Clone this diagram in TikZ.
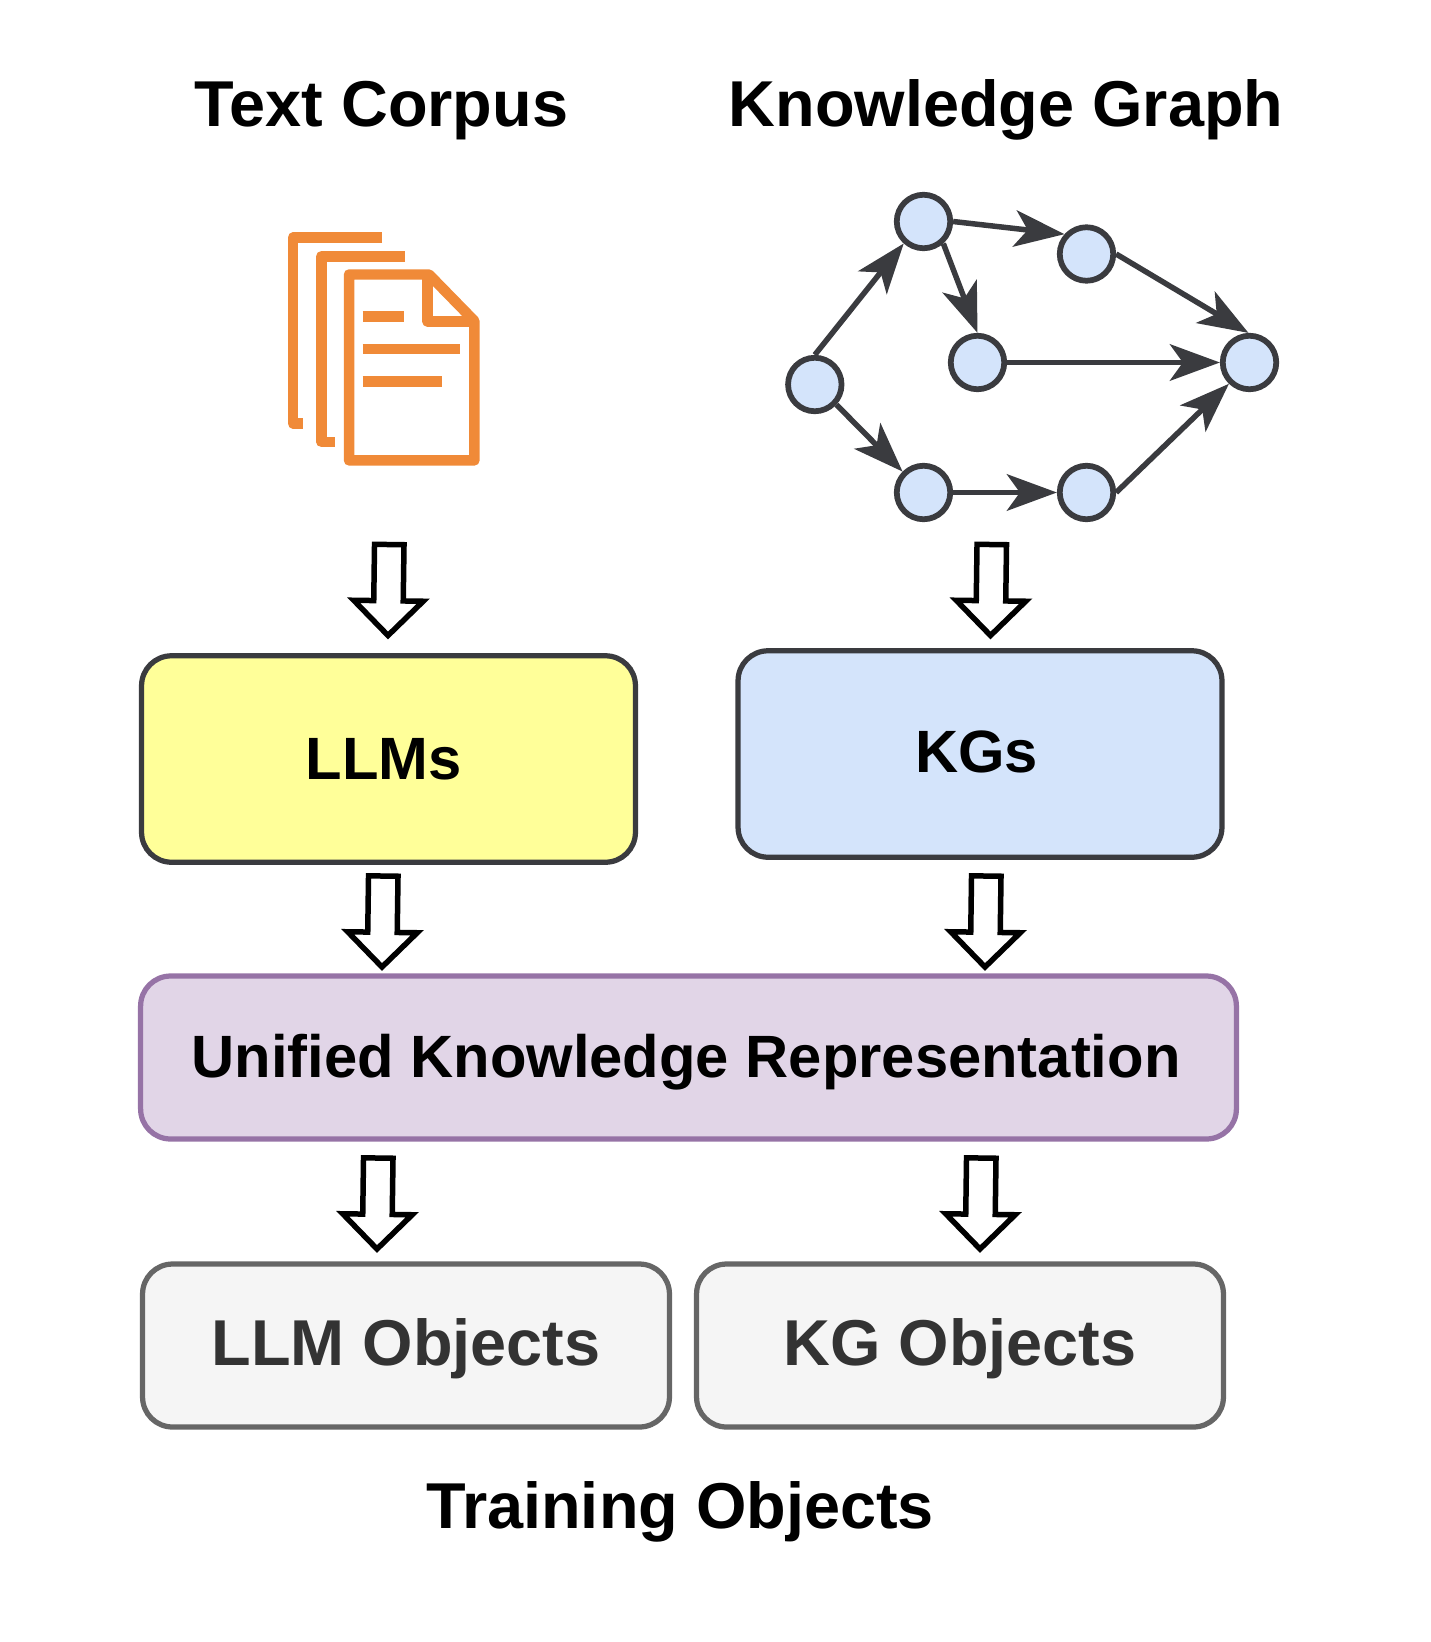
\documentclass[tikz,border=0pt]{standalone}
\usepackage{fontspec}
\setmainfont{Liberation Sans}
\usetikzlibrary{arrows.meta,shapes.arrows}
\definecolor{inkgray}{HTML}{3A3B3F}
\definecolor{kgblue}{HTML}{D4E4FB}
\definecolor{docorange}{HTML}{F08A38}
\definecolor{llmyellow}{HTML}{FFFF99}
\definecolor{unifill}{HTML}{E1D5E7}
\definecolor{uniline}{HTML}{9673A6}
\begin{document}
\begin{tikzpicture}
	[x=0.02cm,y=0.02cm,
	title/.style={font=\bfseries\fontsize{36.9}{44}\selectfont,anchor=base},
	gnode/.style={circle,draw=inkgray,fill=kgblue,line width=0.115cm,minimum size=1.07cm,inner sep=0pt},
	box/.style={rectangle,rounded corners=0.6cm,line width=0.105cm,inner sep=0pt,text depth=0pt,font=\bfseries\fontsize{34}{40}\selectfont},
	objbox/.style={box,draw=black!60,fill=black!4,text=black!80,text depth=0.14cm,minimum width=10.54cm,minimum height=3.26cm,font=\bfseries\fontsize{36.9}{44}\selectfont},
	hollow/.style={single arrow,draw=black,fill=white,line width=0.11cm,inner xsep=0pt,inner ysep=0.24cm,outer sep=0pt,minimum height=1.82cm,single arrow head extend=0.4cm,single arrow tip angle=90,rotate=-90.8,anchor=tip},
	edge/.style={draw=inkgray,line width=0.11cm,-{Stealth[length=1cm,width=0.73cm,inset=0.26cm]}},
	doc/.style={draw=docorange,line width=0.21cm,line join=round}]
	\useasboundingbox (0,0) rectangle (1430,-1642);
	% titles
	\node[title,name=textcorpus]at(381.5,-127){Text Corpus};
	\node[title,name=kgraph]at(1006,-127){Knowledge Graph};
	% document icon
	\draw[doc](382,-237.5)--(293,-237.5)--(293,-423.5)--(302.7,-423.5);
	\draw[doc](405,-256.3)--(321.3,-256.3)--(321.3,-441.8)--(334.7,-441.8);
	\draw[doc](349,-274.5)--(429,-274.5)--(474.4,-321)--(474.4,-460.4)--(349,-460.4)--cycle;
	\draw[doc](427.5,-274.5)--(427.5,-321.5)--(474.4,-321.5);
	\draw[doc](362.7,-316.3)--(404.3,-316.3);
	\draw[doc](362.7,-349)--(460,-349);
	\draw[doc](362.7,-381.3)--(441.7,-381.3);
	% graph
	\node[gnode,name=v1]at(923.5,-221.5){};
	\node[gnode,name=v2]at(1086.5,-254){};
	\node[gnode,name=v3]at(977.5,-362.5){};
	\node[gnode,name=v4]at(1249.5,-362.5){};
	\node[gnode,name=v5]at(814.8,-384.5){};
	\node[gnode,name=v6]at(923.5,-492.5){};
	\node[gnode,name=v7]at(1086.5,-492.5){};
	\draw[edge](v5.90) -- (v1.228);
	\draw[edge](v1.0) -- (v2.138);
	\draw[edge](v1.312) -- (v3.90);
	\draw[edge](v2.0) -- (v4.92);
	\draw[edge](v3.0) -- (v4.180);
	\draw[edge](v5.317) -- (v6.135);
	\draw[edge](v6.0) -- (v7.180);
	\draw[edge](v7.0) -- (v4.226);
	% boxes
	\node[box,draw=inkgray,fill=llmyellow,minimum width=9.88cm,minimum height=4.13cm,name=llms]at(388.5,-759){LLMs\kern0.2cm};
	\node[box,draw=inkgray,fill=kgblue,minimum width=9.68cm,minimum height=4.13cm,text depth=0.08cm,name=kgs]at(980,-754){KGs\kern0.14cm};
	\node[box,draw=uniline,fill=unifill,minimum width=21.92cm,minimum height=3.26cm,text depth=0.08cm,name=unified]at(688.5,-1057.5){Unified Knowledge Representation\kern0.1cm};
	\node[objbox,name=llmobj]at(406,-1345.5){LLM Objects};
	\node[objbox,name=kgobj]at(960,-1345.5){KG Objects};
	\node[title,name=training]at(680,-1528.6){Training Objects};
	% hollow arrows
	\node[hollow,name=a1]at(388,-635.5){};
	\node[hollow,name=a2]at(990.5,-635.5){};
	\node[hollow,name=a3]at(382,-967){};
	\node[hollow,name=a4]at(985,-967){};
	\node[hollow,name=a5]at(377,-1249){};
	\node[hollow,name=a6]at(980,-1249){};
\end{tikzpicture}
\end{document}
